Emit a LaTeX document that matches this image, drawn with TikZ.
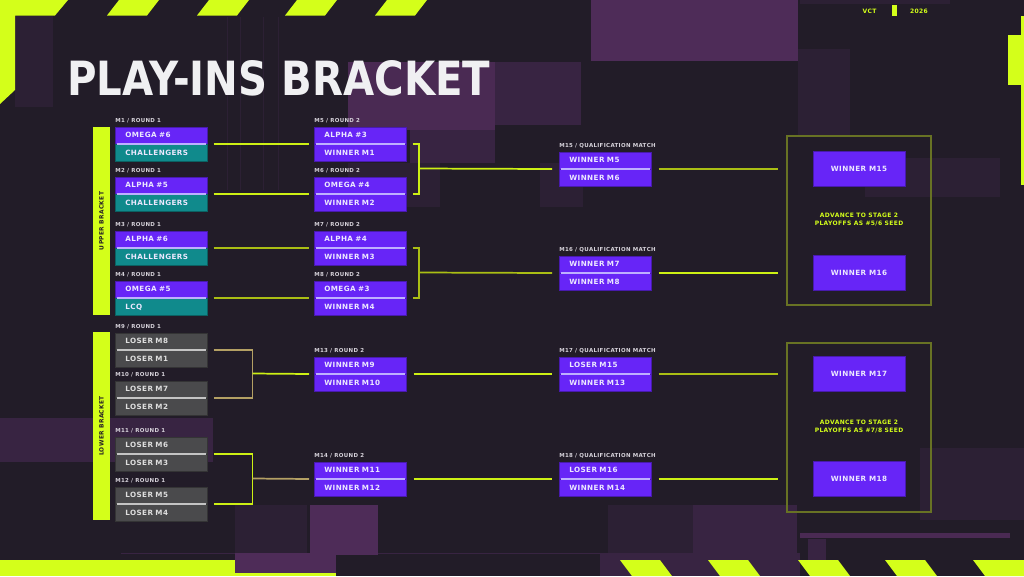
\documentclass[tikz,border=0pt]{standalone}
\usepackage{fontspec}
\usepackage{graphicx}
\usepackage{xcolor}
\newfontfamily\tagfont[LetterSpace=6]{DejaVu Sans}
\newfontfamily\titlefont{DejaVu Sans}
\definecolor{bgdark}{RGB}{34,28,40}
\definecolor{vctlime}{RGB}{212,255,26}
\definecolor{vctpurple}{RGB}{103,37,247}
\definecolor{vctteal}{RGB}{16,138,140}
\definecolor{slotgray}{RGB}{74,74,76}
\definecolor{slottext}{RGB}{236,232,255}
\definecolor{graytext}{RGB}{222,222,222}
\definecolor{taggray}{RGB}{214,210,218}
\definecolor{divlav}{RGB}{190,176,255}
\definecolor{divgray}{RGB}{196,196,196}
\definecolor{linklime}{RGB}{205,240,20}
\definecolor{linkolive}{RGB}{170,190,20}
\definecolor{linktan}{RGB}{180,160,100}
\definecolor{frameolive}{RGB}{104,114,36}
\definecolor{titlewhite}{RGB}{240,240,242}
\definecolor{decohi}{RGB}{78,44,88}
\definecolor{decomid}{RGB}{56,36,66}
\definecolor{decolow}{RGB}{44,32,52}

\begin{document}
\begin{tikzpicture}[x=0.75pt,y=-0.75pt]
  \tikzset{
    slot/.style={anchor=north west,fill=#1,draw=#1!70!black,line width=0.4pt,
      minimum width=69pt,minimum height=12.75pt,inner xsep=7.5pt,inner ysep=0pt,
      text width=54pt,align=left,text height=3.95pt,text depth=0pt,
      text=slottext,font=\tagfont\bfseries\fontsize{5.4}{6}\selectfont},
    lowslot/.style={slot=slotgray,text=graytext},
    splitline/.style={draw=#1,line width=0.9pt},
    matchtag/.style={anchor=base west,inner sep=0pt,text=taggray,
      font=\tagfont\bfseries\fontsize{4.1}{5}\selectfont},
    link/.style={draw=#1,line width=1.3pt},
    finalbox/.style={fill=vctpurple,draw=vctpurple!70!black,line width=0.4pt,
      minimum width=69pt,minimum height=26.25pt,inner sep=0pt,text=slottext,
      text height=3.95pt,text depth=0pt,font=\tagfont\bfseries\fontsize{5.4}{6}\selectfont},
    goalframe/.style={draw=frameolive,line width=0.9pt,minimum width=108pt,
      minimum height=126.75pt,inner sep=0pt},
    advnote/.style={align=center,text=vctlime,inner sep=0pt,
      font=\tagfont\bfseries\fontsize{4.5}{6}\selectfont},
    bracketbar/.style={fill=vctlime,rotate=90,minimum width=141pt,minimum height=12.75pt,
      inner sep=0pt,text=bgdark,font=\tagfont\bfseries\fontsize{4.4}{5}\selectfont},
    headtag/.style={text=vctlime,inner sep=0pt,font=\tagfont\bfseries\fontsize{4.5}{5}\selectfont}
  }

  % background
  \fill[bgdark] (0,0) rectangle (1024,576);
  \useasboundingbox (0,0) rectangle (1024,576);
  \fill[decolow] (15,15.5) rectangle (53,107);
  \fill[decohi] (591,0) rectangle (798,61);
  \fill[decolow] (800,0) rectangle (950,4);
  \fill[decohi!90!bgdark] (348,62) rectangle (495,130);
  \fill[decomid] (410,130) rectangle (495,163);
  \fill[decolow] (348,163) rectangle (440,207);
  \fill[decomid] (495,62) rectangle (581,125);
  \fill[decolow] (798,49) rectangle (850,135);
  \fill[decolow] (540,163) rectangle (583,207);
  \fill[decolow] (865,158) rectangle (1000,197);
  \draw[decolow,line width=0.75pt] (227,17) -- (227,190) (240,17) -- (240,190) (263,17) -- (263,190) (278,17) -- (278,190);
  \fill[decomid] (0,418) rectangle (213,462);
  \fill[decolow] (920,448) rectangle (1024,520);
  \fill[decolow] (235,505) rectangle (307,553);
  \fill[decolow] (608,505) rectangle (797,553);
  \fill[decomid] (693,505) rectangle (797,553);
  \fill[decomid] (121,552.5) rectangle (797,553.5);
  \fill[decohi] (310,505) rectangle (378,555);
  \fill[decomid] (600,553) rectangle (800,576);
  \fill[decohi!90!bgdark] (800,533) rectangle (1010,538);
  \fill[decomid] (808,539) rectangle (826,560);

  % lime edges
  \fill[vctlime] (0,0) -- (68,0) -- (55,15.5) -- (15,15.5) -- (15,90) -- (0,104) -- cycle;
  \fill[vctlime] (107,15.5) -- (119,0) -- (159,0) -- (147,15.5) -- cycle;
  \fill[vctlime] (197,15.5) -- (209,0) -- (249,0) -- (237,15.5) -- cycle;
  \fill[vctlime] (285,15.5) -- (297,0) -- (337,0) -- (325,15.5) -- cycle;
  \fill[vctlime] (375,15.5) -- (387,0) -- (427,0) -- (415,15.5) -- cycle;
  \fill[vctlime] (1021,16) rectangle (1024,185);
  \fill[vctlime] (1008,35) rectangle (1024,85);
  \fill[decohi] (235,553) rectangle (336,573);
  \fill[vctlime] (0,560) rectangle (235,576);
  \fill[vctlime] (235,573) rectangle (336,576);
  \fill[vctlime] (620,560) -- (660,560) -- (672,576) -- (632,576) -- cycle;
  \fill[vctlime] (708,560) -- (748,560) -- (760,576) -- (720,576) -- cycle;
  \fill[vctlime] (798,560) -- (838,560) -- (850,576) -- (810,576) -- cycle;
  \fill[vctlime] (885,560) -- (925,560) -- (937,576) -- (897,576) -- cycle;
  \fill[vctlime] (973,560) -- (1024,560) -- (1024,576) -- (985,576) -- cycle;

  % header
  \node[headtag] (vct) at (869.5,11) {VCT};
  \fill[vctlime] (892,5) rectangle (897,16);
  \node[headtag] (year) at (919,11) {2026};
  \node[anchor=base west,inner sep=0pt,text=titlewhite] (title) at (67,95)
    {\resizebox{317.25pt}{26.25pt}{\titlefont\bfseries PLAY-INS BRACKET}};

  % side bars
  \node[bracketbar] (ub) at (101.5,221) {UPPER BRACKET};
  \node[bracketbar] (lb) at (101.5,426) {LOWER BRACKET};

  % upper bracket, round 1
  \node[matchtag] (t1) at (115,122) {M1 / ROUND 1};
  \node[slot=vctpurple] (m1a) at (115,126.5) {OMEGA \#6};
  \node[slot=vctteal] (m1b) at (m1a.south west) {CHALLENGERS};
  \node[matchtag] (t2) at (115,172) {M2 / ROUND 1};
  \node[slot=vctpurple] (m2a) at (115,176.5) {ALPHA \#5};
  \node[slot=vctteal] (m2b) at (m2a.south west) {CHALLENGERS};
  \node[matchtag] (t3) at (115,226) {M3 / ROUND 1};
  \node[slot=vctpurple] (m3a) at (115,230.5) {ALPHA \#6};
  \node[slot=vctteal] (m3b) at (m3a.south west) {CHALLENGERS};
  \node[matchtag] (t4) at (115,276) {M4 / ROUND 1};
  \node[slot=vctpurple] (m4a) at (115,280.5) {OMEGA \#5};
  \node[slot=vctteal] (m4b) at (m4a.south west) {LCQ};

  % upper bracket, round 2
  \node[matchtag] (t5) at (314,122) {M5 / ROUND 2};
  \node[slot=vctpurple] (m5a) at (314,126.5) {ALPHA \#3};
  \node[slot=vctpurple] (m5b) at (m5a.south west) {WINNER M1};
  \node[matchtag] (t6) at (314,172) {M6 / ROUND 2};
  \node[slot=vctpurple] (m6a) at (314,176.5) {OMEGA \#4};
  \node[slot=vctpurple] (m6b) at (m6a.south west) {WINNER M2};
  \node[matchtag] (t7) at (314,226) {M7 / ROUND 2};
  \node[slot=vctpurple] (m7a) at (314,230.5) {ALPHA \#4};
  \node[slot=vctpurple] (m7b) at (m7a.south west) {WINNER M3};
  \node[matchtag] (t8) at (314,276) {M8 / ROUND 2};
  \node[slot=vctpurple] (m8a) at (314,280.5) {OMEGA \#3};
  \node[slot=vctpurple] (m8b) at (m8a.south west) {WINNER M4};

  % lower bracket, round 1
  \node[matchtag] (t9) at (115,328) {M9 / ROUND 1};
  \node[lowslot] (m9a) at (115,332.5) {LOSER M8};
  \node[lowslot] (m9b) at (m9a.south west) {LOSER M1};
  \node[matchtag] (t10) at (115,376) {M10 / ROUND 1};
  \node[lowslot] (m10a) at (115,380.5) {LOSER M7};
  \node[lowslot] (m10b) at (m10a.south west) {LOSER M2};
  \node[matchtag] (t11) at (115,432) {M11 / ROUND 1};
  \node[lowslot] (m11a) at (115,436.5) {LOSER M6};
  \node[lowslot] (m11b) at (m11a.south west) {LOSER M3};
  \node[matchtag] (t12) at (115,482) {M12 / ROUND 1};
  \node[lowslot] (m12a) at (115,486.5) {LOSER M5};
  \node[lowslot] (m12b) at (m12a.south west) {LOSER M4};

  % lower bracket, round 2
  \node[matchtag] (t13) at (314,352) {M13 / ROUND 2};
  \node[slot=vctpurple] (m13a) at (314,356.5) {WINNER M9};
  \node[slot=vctpurple] (m13b) at (m13a.south west) {WINNER M10};
  \node[matchtag] (t14) at (314,457) {M14 / ROUND 2};
  \node[slot=vctpurple] (m14a) at (314,461.5) {WINNER M11};
  \node[slot=vctpurple] (m14b) at (m14a.south west) {WINNER M12};

  % qualification matches
  \node[matchtag] (t15) at (559,147) {M15 / QUALIFICATION MATCH};
  \node[slot=vctpurple] (m15a) at (559,151.5) {WINNER M5};
  \node[slot=vctpurple] (m15b) at (m15a.south west) {WINNER M6};
  \node[matchtag] (t16) at (559,251) {M16 / QUALIFICATION MATCH};
  \node[slot=vctpurple] (m16a) at (559,255.5) {WINNER M7};
  \node[slot=vctpurple] (m16b) at (m16a.south west) {WINNER M8};
  \node[matchtag] (t17) at (559,352) {M17 / QUALIFICATION MATCH};
  \node[slot=vctpurple] (m17a) at (559,356.5) {LOSER M15};
  \node[slot=vctpurple] (m17b) at (m17a.south west) {WINNER M13};
  \node[matchtag] (t18) at (559,457) {M18 / QUALIFICATION MATCH};
  \node[slot=vctpurple] (m18a) at (559,461.5) {LOSER M16};
  \node[slot=vctpurple] (m18b) at (m18a.south west) {WINNER M14};

  % seeds
  \node[goalframe] (f1) at (859,220.5) {};
  \node[finalbox] (w15) at (859,168.5) {WINNER M15};
  \node[advnote] (n1) at (859,219.5) {ADVANCE TO STAGE 2\\PLAYOFFS AS \#5/6 SEED};
  \node[finalbox] (w16) at (859,272.5) {WINNER M16};
  \node[goalframe] (f2) at (859,427.5) {};
  \node[finalbox] (w17) at (859,373.5) {WINNER M17};
  \node[advnote] (n2) at (859,426.5) {ADVANCE TO STAGE 2\\PLAYOFFS AS \#7/8 SEED};
  \node[finalbox] (w18) at (859,478.5) {WINNER M18};

  % dividers
  \draw[splitline=divlav] ([xshift=1.5pt]m1a.south west) -- ([xshift=-1.5pt]m1a.south east);
  \draw[splitline=divlav] ([xshift=1.5pt]m2a.south west) -- ([xshift=-1.5pt]m2a.south east);
  \draw[splitline=divlav] ([xshift=1.5pt]m3a.south west) -- ([xshift=-1.5pt]m3a.south east);
  \draw[splitline=divlav] ([xshift=1.5pt]m4a.south west) -- ([xshift=-1.5pt]m4a.south east);
  \draw[splitline=divlav] ([xshift=1.5pt]m5a.south west) -- ([xshift=-1.5pt]m5a.south east);
  \draw[splitline=divlav] ([xshift=1.5pt]m6a.south west) -- ([xshift=-1.5pt]m6a.south east);
  \draw[splitline=divlav] ([xshift=1.5pt]m7a.south west) -- ([xshift=-1.5pt]m7a.south east);
  \draw[splitline=divlav] ([xshift=1.5pt]m8a.south west) -- ([xshift=-1.5pt]m8a.south east);
  \draw[splitline=divgray] ([xshift=1.5pt]m9a.south west) -- ([xshift=-1.5pt]m9a.south east);
  \draw[splitline=divgray] ([xshift=1.5pt]m10a.south west) -- ([xshift=-1.5pt]m10a.south east);
  \draw[splitline=divgray] ([xshift=1.5pt]m11a.south west) -- ([xshift=-1.5pt]m11a.south east);
  \draw[splitline=divgray] ([xshift=1.5pt]m12a.south west) -- ([xshift=-1.5pt]m12a.south east);
  \draw[splitline=divlav] ([xshift=1.5pt]m13a.south west) -- ([xshift=-1.5pt]m13a.south east);
  \draw[splitline=divlav] ([xshift=1.5pt]m14a.south west) -- ([xshift=-1.5pt]m14a.south east);
  \draw[splitline=divlav] ([xshift=1.5pt]m15a.south west) -- ([xshift=-1.5pt]m15a.south east);
  \draw[splitline=divlav] ([xshift=1.5pt]m16a.south west) -- ([xshift=-1.5pt]m16a.south east);
  \draw[splitline=divlav] ([xshift=1.5pt]m17a.south west) -- ([xshift=-1.5pt]m17a.south east);
  \draw[splitline=divlav] ([xshift=1.5pt]m18a.south west) -- ([xshift=-1.5pt]m18a.south east);

  % connectors
  \coordinate (j56) at (419,168.5);
  \coordinate (j78) at (419,272.5);
  \coordinate (j910) at (252.5,373.5);
  \coordinate (j1112) at (252.5,478.5);
  \draw[link=linklime,shorten <=4.5pt,shorten >=3.75pt] (m1a.south east) -- (m5a.south west);
  \draw[link=linklime,shorten <=4.5pt,shorten >=3.75pt] (m2a.south east) -- (m6a.south west);
  \draw[link=linkolive,shorten <=4.5pt,shorten >=3.75pt] (m3a.south east) -- (m7a.south west);
  \draw[link=linkolive,shorten <=4.5pt,shorten >=3.75pt] (m4a.south east) -- (m8a.south west);
  \draw[link=linklime,shorten <=4.5pt,shorten >=4.5pt] (m5a.south east) -| (j56) |- (m6a.south east);
  \draw[link=linkolive,shorten <=4.5pt,shorten >=4.5pt] (m7a.south east) -| (j78) |- (m8a.south east);
  \draw[link=linklime,shorten >=5.25pt] (j56) -- (m15a.south west);
  \draw[link=linkolive,shorten >=5.25pt] (j78) -- (m16a.south west);
  \draw[link=linktan,shorten <=4.5pt,shorten >=4.5pt] (m9a.south east) -| (j910) |- (m10a.south east);
  \draw[link=linklime,shorten <=4.5pt,shorten >=4.5pt] (m11a.south east) -| (j1112) |- (m12a.south east);
  \draw[link=linklime,shorten >=3.75pt] (j910) -- (m13a.south west);
  \draw[link=linktan,shorten >=3.75pt] (j1112) -- (m14a.south west);
  \draw[link=linklime,shorten <=5.25pt,shorten >=5.25pt] (m13a.south east) -- (m17a.south west);
  \draw[link=linklime,shorten <=5.25pt,shorten >=5.25pt] (m14a.south east) -- (m18a.south west);
  \draw[link=linkolive,shorten <=5.25pt,shorten >=6pt] (m15a.south east) -- (m15a.south east -| f1.west);
  \draw[link=linklime,shorten <=5.25pt,shorten >=6pt] (m16a.south east) -- (m16a.south east -| f1.west);
  \draw[link=linkolive,shorten <=5.25pt,shorten >=6pt] (m17a.south east) -- (m17a.south east -| f2.west);
  \draw[link=linklime,shorten <=5.25pt,shorten >=6pt] (m18a.south east) -- (m18a.south east -| f2.west);
\end{tikzpicture}
\end{document}
